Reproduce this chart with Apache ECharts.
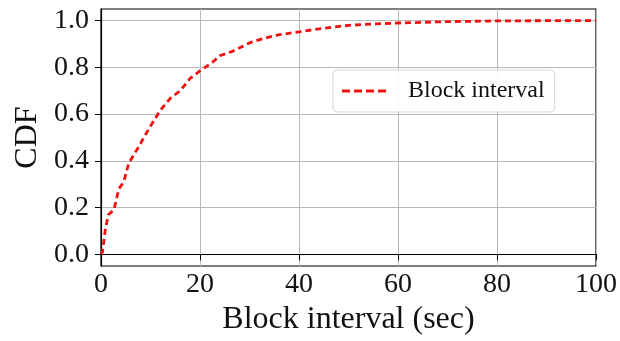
<!DOCTYPE html>
<html>
<head>
<meta charset="utf-8">
<script src="https://cdn.jsdelivr.net/npm/echarts@6/dist/echarts.min.js"></script>
<style>
  html, body { margin: 0; padding: 0; background: #fff; }
  #chart { width: 620px; height: 341px; }
</style>
</head>
<body>
<div id="chart"></div>
<script>
// block interval (sec) and cumulative share
const intervals = [0, 0.3, 0.9, 1.5, 2.6, 3.6, 4.6, 5.6, 7.6, 9.6, 12, 14, 16, 18, 20, 22.7, 24, 26.7, 30, 33, 36, 40, 44, 50, 55, 60, 70, 80, 90, 100]
const cdf = [0, 0.01, 0.11, 0.17, 0.19, 0.28, 0.31, 0.39, 0.46, 0.535, 0.617, 0.668, 0.7, 0.753, 0.785, 0.825, 0.85, 0.87, 0.905, 0.925, 0.94, 0.952, 0.965, 0.98, 0.986, 0.99, 0.996, 0.999, 1, 1]
const yTicks = [0, 0.2, 0.4, 0.6, 0.8, 1.0]
const xTicks = [0, 20, 40, 60, 80, 100]

const serif = '"Liberation Serif", "Times New Roman", serif'
// four dashes for the legend key
const dashIcon = 'path://M0,0H8V3H0Z M12,0H20V3H12Z M24,0H32V3H24Z M36,0H44V3H36Z'
const chart = echarts.init(document.getElementById('chart'))

chart.setOption({
  animation: false,
  grid: {
    left: 101,
    right: 22,
    top: 9,
    bottom: 75,
    show: true,
    borderColor: '#000',
    borderWidth: 1.2,
    backgroundColor: 'transparent'
  },
  legend: {
    left: 333,
    top: 70,
    padding: [9, 10, 9, 9],
    itemWidth: 46,
    itemHeight: 3,
    icon: dashIcon,
    borderColor: '#d6d6d6',
    borderWidth: 1,
    borderRadius: 4,
    backgroundColor: 'rgba(255,255,255,0.9)',
    textStyle: {
      fontFamily: serif,
      fontSize: 24,
      color: '#111',
      padding: [0, 0, 0, 16]
    },
    data: ['Block interval']
  },
  xAxis: {
    type: 'value',
    min: 0,
    max: 100,
    interval: 20,
    name: 'Block interval (sec)',
    nameLocation: 'middle',
    nameGap: 30,
    nameTextStyle: { fontFamily: serif, fontSize: 32, color: '#111' },
    axisLine: { show: true, lineStyle: { color: '#000', width: 1.2 } },
    axisTick: { show: true, length: 6, lineStyle: { color: '#000' }, customValues: xTicks },
    axisLabel: { fontFamily: serif, fontSize: 28, color: '#111', margin: 5, customValues: xTicks },
    splitLine: { show: true, lineStyle: { color: '#b8b8b8', width: 1 } }
  },
  yAxis: {
    type: 'value',
    min: -0.05,
    max: 1.05,
    name: 'CDF',
    nameLocation: 'middle',
    nameGap: 50,
    nameTextStyle: { fontFamily: serif, fontSize: 32, color: '#111' },
    axisLine: { show: true, lineStyle: { color: '#000', width: 1.2 } },
    axisTick: { show: true, length: 6, lineStyle: { color: '#000' }, customValues: yTicks },
    axisLabel: {
      fontFamily: serif,
      fontSize: 28,
      color: '#111',
      margin: 12,
      customValues: yTicks,
      formatter: v => v.toFixed(1)
    },
    splitLine: { show: true, lineStyle: { color: '#b8b8b8', width: 1 } }
  },
  series: [
    {
      name: 'Block interval',
      type: 'line',
      symbol: 'none',
      data: intervals.map((x, i) => [x, cdf[i]]),
      lineStyle: { color: '#f01010', width: 2.8, type: [6, 4] },
      itemStyle: { color: '#f01010' }
    }
  ]
})
</script>
</body>
</html>
